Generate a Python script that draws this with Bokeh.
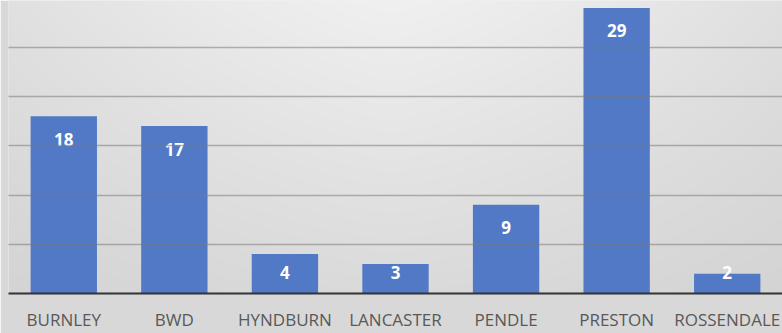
import numpy as np
from bokeh.plotting import figure
from bokeh.models import ColumnDataSource, Range1d, FixedTicker, Grid
from bokeh.core.properties import value
from bokeh.embed import file_html
from bokeh.resources import INLINE

categories = ["BURNLEY", "BWD", "HYNDBURN", "LANCASTER", "PENDLE", "PRESTON", "ROSSENDALE"]
counts = [18, 17, 4, 3, 9, 29, 2]
grid_ticks = [5, 10, 15, 20, 25]

W, H = 782, 333
LEFT, BOTTOM = 8, 40
Y_MAX = 29.75
FW, FH = W - LEFT, H - BOTTOM
PX_PER_UNIT = FH / Y_MAX

xs = list(range(len(categories)))

p = figure(width=W, height=H,
           x_range=Range1d(-0.5, len(categories) - 0.5),
           y_range=Range1d(0, Y_MAX),
           output_backend="svg", toolbar_location=None,
           y_axis_location=None,
           min_border_left=LEFT, min_border_right=0,
           min_border_top=0, min_border_bottom=BOTTOM)
p.outline_line_color = None
p.border_fill_color = "#d8d8d8"
p.background_fill_color = "#e4e4e4"
p.grid.visible = False

# background gradient (light at top centre, darker towards bottom/edges)
ii = np.arange(FW) + LEFT + 0.5
jj = np.arange(FH) + 0.5
PX, PY = np.meshgrid(ii, jj)
dx = np.abs(PX - W / 2) / (W / 2)
ty = PY / H
v = 240 - 25 * ty - 16 * dx ** 1.3 * (1 - 0.7 * ty)
v = np.clip(v, 0, 255).astype(np.uint8)
rgba = np.zeros((FH, FW, 4), dtype=np.uint8)
rgba[..., 0] = v
rgba[..., 1] = v
rgba[..., 2] = v
rgba[..., 3] = 255
rgba = np.flipud(rgba).copy()
img = rgba.view(dtype=np.uint32).reshape((FH, FW))
p.image_rgba(image=[img], x=-0.5, y=0, dw=len(categories), dh=Y_MAX)

src = ColumnDataSource(dict(x=xs, top=counts, cat=categories))
p.vbar(x="x", top="top", width=0.6, source=src,
       fill_color="#5179C6", line_color=None)

grid = Grid(dimension=1, ticker=FixedTicker(ticks=grid_ticks),
            grid_line_color="#7a7a7a", grid_line_alpha=0.55,
            grid_line_width=1.6, level="overlay")
p.add_layout(grid)

# data labels: inside end, clamped near the bottom for short bars
lab_y = [max(c - 23 / PX_PER_UNIT, 21.3 / PX_PER_UNIT) for c in counts]
lsrc = ColumnDataSource(dict(x=xs, y=lab_y, t=[str(c) for c in counts]))
p.text(x="x", y="y", text="t", source=lsrc,
       text_font=value("Open Sans"), text_font_style="bold",
       text_font_size="17px", text_color="white",
       text_align="center", text_baseline="middle")

ax = p.xaxis[0]
ax.ticker = FixedTicker(ticks=xs)
ax.major_label_overrides = {i: c for i, c in enumerate(categories)}
ax.axis_line_color = "#333333"
ax.axis_line_width = 2
ax.major_tick_line_color = None
ax.major_tick_out = 0
ax.major_tick_in = 0
ax.minor_tick_line_color = None
ax.major_label_text_font = "Open Sans"
ax.major_label_text_font_size = "17px"
ax.major_label_text_color = "#595959"
ax.major_label_standoff = 14

open("out.html", "w").write(file_html(p, INLINE))
